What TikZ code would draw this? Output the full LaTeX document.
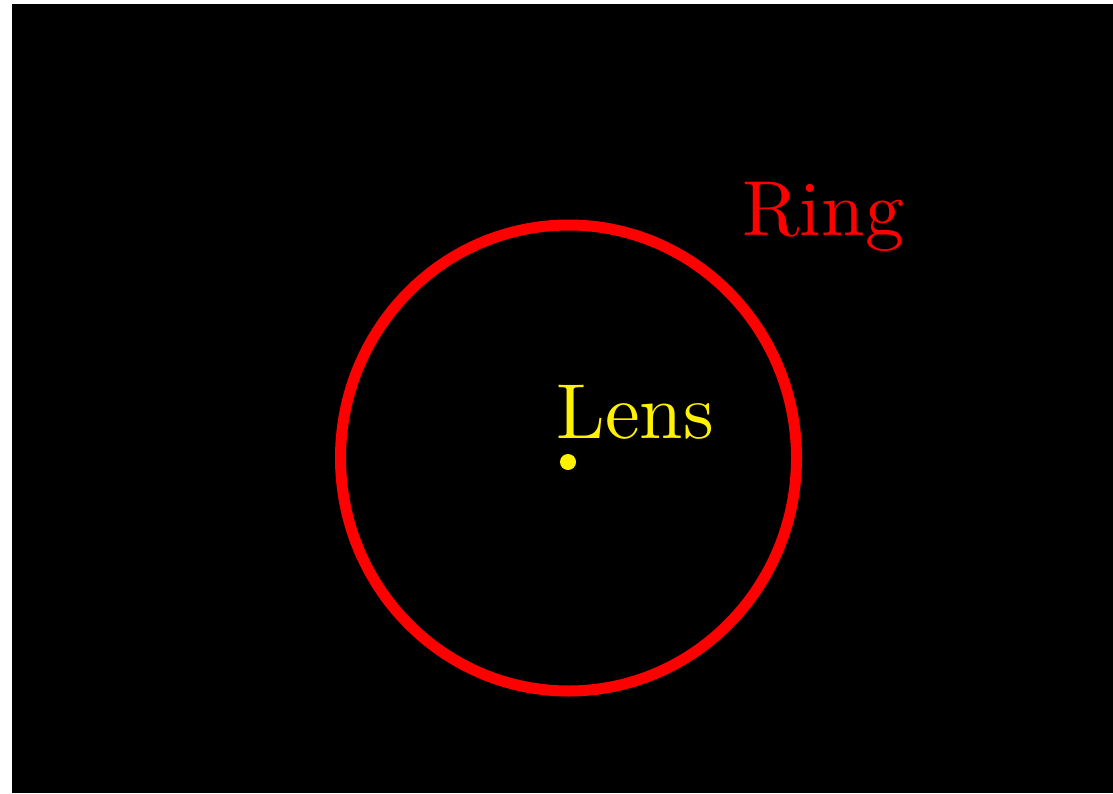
\documentclass[tikz,border=0pt]{standalone}
\usepackage{tikz}
\usetikzlibrary{calc}

\begin{document}
\begin{tikzpicture}[x=1pt, y=-1pt]

        %
        \coordinate (SW) at (0,793);
        \coordinate (NE) at (1113,0);
        \coordinate (L) at (568.5,458);
        \coordinate (D) at (568,462);

        %
        \def\rx{228}
        \def\ry{233}

        %
        \fill[white] (SW) rectangle (NE);
        \fill[black] (12,4) rectangle (1113,793);
        \useasboundingbox (SW) rectangle (NE);

        %
        \draw[red, line width=11pt] (L) ellipse [x radius=\rx, y radius=\ry];

        %
        \fill[yellow] (D) circle (8);

        %
        \node[anchor=base west, inner sep=0pt, text=yellow, font=\normalsize, scale=7.8, transform shape] (lens) at (555,438) {Lens};
        \node[anchor=base west, inner sep=0pt, text=red, font=\normalsize, scale=7.8, transform shape] (ring) at (741,235) {Ring};

    \end{tikzpicture}
\end{document}
